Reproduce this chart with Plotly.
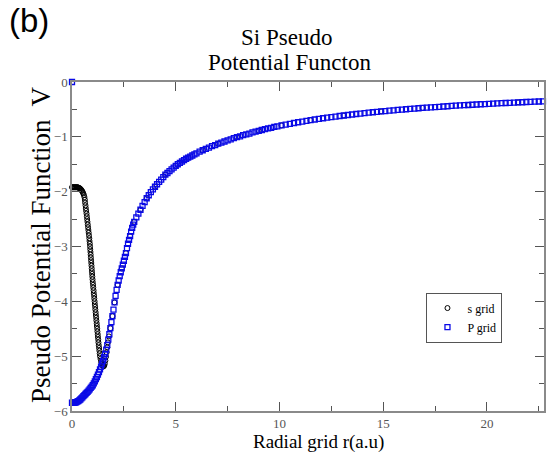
import plotly.graph_objects as go

# ---- data ----
# P grid (blue open squares)
p_r = [0.0,
       0.00, 0.05, 0.10, 0.15, 0.20, 0.25, 0.30, 0.35, 0.40, 0.45, 0.50, 0.55, 0.60,
       0.65, 0.70, 0.75, 0.80, 0.85, 0.90, 0.95, 1.00, 1.05, 1.10, 1.15, 1.20, 1.25,
       1.30, 1.35, 1.40, 1.45, 1.50, 1.55, 1.60, 1.65, 1.70, 1.75, 1.80, 1.85, 1.90,
       1.95, 2.00, 2.05, 2.10, 2.15, 2.20, 2.25, 2.30, 2.35, 2.40, 2.45, 2.50, 2.55,
       2.60, 2.65, 2.70, 2.75, 2.80, 2.85, 2.90, 2.95, 3.00,
       3.1, 3.2, 3.3, 3.4, 3.5, 3.6, 3.7, 3.8, 3.9, 4.0, 4.1, 4.2, 4.3, 4.4, 4.5,
       4.6, 4.7, 4.8, 4.9, 5.0, 5.1, 5.2, 5.3, 5.4, 5.5, 5.6, 5.7, 5.8, 5.9, 6.0,
       6.15, 6.3, 6.45, 6.6, 6.75, 6.9, 7.05, 7.2, 7.35, 7.5, 7.65, 7.8, 7.95, 8.1,
       8.25, 8.4, 8.55, 8.7, 8.85, 9.0, 9.15, 9.3, 9.45, 9.6, 9.75, 9.9,
       10.1, 10.3, 10.5, 10.7, 10.9, 11.1, 11.3, 11.5, 11.7, 11.9, 12.1, 12.3, 12.5,
       12.7, 12.9, 13.1, 13.3, 13.5, 13.7, 13.9, 14.1, 14.3, 14.5, 14.7, 14.9, 15.1,
       15.3, 15.5, 15.7, 15.9, 16.1, 16.3, 16.5, 16.7, 16.9, 17.1, 17.3, 17.5, 17.7,
       17.9, 18.1, 18.3, 18.5, 18.7, 18.9, 19.1, 19.3, 19.5, 19.7, 19.9, 20.1, 20.3,
       20.5, 20.7, 20.9, 21.1, 21.3, 21.5, 21.7, 21.9, 22.1, 22.3, 22.5, 22.7]
p_v = [0.0,
       -5.85, -5.85, -5.85, -5.845, -5.84, -5.83, -5.82, -5.805, -5.79, -5.77, -5.75,
       -5.73, -5.71, -5.69, -5.67, -5.65, -5.63, -5.605, -5.58, -5.555, -5.53, -5.495,
       -5.46, -5.42, -5.38, -5.335, -5.29, -5.24, -5.19, -5.135, -5.08, -5.02, -4.96,
       -4.88, -4.80, -4.70, -4.60, -4.49, -4.38, -4.27, -4.15, -4.02, -3.90, -3.79,
       -3.70, -3.62, -3.54, -3.47, -3.40, -3.33, -3.26, -3.19, -3.12, -3.03, -2.95,
       -2.88, -2.81, -2.73, -2.66, -2.60, -2.55,
       -2.47, -2.40, -2.33, -2.26, -2.19, -2.12, -2.065, -2.01, -1.96, -1.91, -1.865,
       -1.82, -1.78, -1.735, -1.69, -1.66, -1.625, -1.595, -1.56, -1.53, -1.50,
       -1.475, -1.45, -1.425, -1.40, -1.38, -1.36, -1.34, -1.32, -1.30,
       -1.27, -1.245, -1.22, -1.195, -1.17, -1.15, -1.125, -1.105, -1.085, -1.065,
       -1.045, -1.025, -1.005, -0.99, -0.97, -0.955, -0.94, -0.92, -0.905, -0.89,
       -0.875, -0.86, -0.845, -0.835, -0.82, -0.81,
       -0.792, -0.777, -0.762, -0.748, -0.734, -0.721, -0.708, -0.696, -0.684,
       -0.672, -0.661, -0.650, -0.640, -0.630, -0.620, -0.611, -0.602, -0.593,
       -0.584, -0.576, -0.567, -0.559, -0.552, -0.544, -0.537, -0.530, -0.523,
       -0.516, -0.510, -0.503, -0.497, -0.491, -0.485, -0.479, -0.473, -0.468,
       -0.462, -0.457, -0.452, -0.447, -0.442, -0.437, -0.432, -0.428, -0.423,
       -0.419, -0.415, -0.410, -0.406, -0.402, -0.398, -0.394, -0.390, -0.386,
       -0.383, -0.379, -0.376, -0.372, -0.369, -0.365, -0.362, -0.359, -0.356,
       -0.352]

# s grid (black open circles)
s_r = [0.00, 0.03, 0.06, 0.09, 0.12, 0.15, 0.18, 0.21, 0.24, 0.27, 0.30, 0.33, 0.36,
       0.39, 0.42, 0.45, 0.48, 0.51, 0.54, 0.57, 0.60,
       0.62, 0.63, 0.65, 0.665, 0.68, 0.70, 0.715, 0.73, 0.745, 0.76, 0.775, 0.79,
       0.805, 0.82, 0.835, 0.845, 0.86, 0.87, 0.88, 0.89, 0.90, 0.91, 0.92, 0.93,
       0.94, 0.95, 0.96, 0.97, 0.98, 0.99, 1.00, 1.015, 1.025, 1.04, 1.05, 1.065,
       1.075, 1.09, 1.10, 1.115, 1.125, 1.14, 1.15, 1.165, 1.175, 1.19, 1.20, 1.215,
       1.225, 1.24, 1.25, 1.265, 1.275, 1.29, 1.305, 1.32, 1.335, 1.35, 1.375, 1.40,
       1.43, 1.46, 1.49, 1.52, 1.55, 1.58, 1.61, 1.64, 1.67, 1.70, 1.73,
       1.78, 1.85, 1.95, 2.05, 2.2, 2.4, 2.6, 2.8, 3.0, 3.3, 3.6, 4.0, 4.5, 5.0,
       5.6, 6.3, 7.05, 7.95, 9.0, 10.1, 11.5, 13.1, 14.9, 16.9, 19.1, 21.5]
s_v = [-1.92, -1.92, -1.92, -1.92, -1.92, -1.92, -1.92, -1.92, -1.92, -1.92, -1.925,
       -1.93, -1.935, -1.945, -1.955, -1.97, -1.985, -2.005, -2.03, -2.06, -2.10,
       -2.15, -2.20, -2.25, -2.30, -2.35, -2.40, -2.45, -2.50, -2.55, -2.60, -2.65,
       -2.70, -2.75, -2.80, -2.85, -2.90, -2.95, -3.00, -3.05, -3.10, -3.15, -3.20,
       -3.25, -3.30, -3.35, -3.40, -3.45, -3.50, -3.55, -3.60, -3.65, -3.70, -3.75,
       -3.80, -3.85, -3.90, -3.95, -4.00, -4.05, -4.10, -4.15, -4.20, -4.25, -4.30,
       -4.35, -4.40, -4.45, -4.50, -4.55, -4.60, -4.65, -4.70, -4.75, -4.80, -4.85,
       -4.90, -4.95, -5.00, -5.05, -5.10, -5.14, -5.165, -5.18, -5.185, -5.175,
       -5.14, -5.08, -5.01, -4.93, -4.84, -4.75,
       -4.64, -4.49, -4.27, -4.02, -3.70, -3.40, -3.12, -2.81, -2.55, -2.33, -2.12,
       -1.91, -1.69, -1.53, -1.38, -1.245, -1.125, -1.005, -0.89, -0.792, -0.696,
       -0.611, -0.537, -0.473, -0.419, -0.372]

x_ticks = [0, 5, 10, 15, 20]
y_ticks = [0, -1, -2, -3, -4, -5, -6]

serif = "Liberation Serif"

fig = go.Figure()
fig.add_trace(go.Scatter(
    x=s_r, y=s_v, mode="markers", name="s grid",
    marker=dict(symbol="circle-open", size=5, color="black", line=dict(width=1)),
    cliponaxis=False))
fig.add_trace(go.Scatter(
    x=p_r, y=p_v, mode="markers", name="P grid",
    marker=dict(symbol="square-open", size=5, color="#0a0ae6", line=dict(width=1.3)),
    cliponaxis=False))

axis_common = dict(
    showline=True, linecolor="#8a8a8a", linewidth=1.5, mirror="ticks",
    ticks="inside", ticklen=9, tickwidth=1, tickcolor="#555555",
    showgrid=False, zeroline=False,
    tickfont=dict(family=serif, size=13, color="#555555"),
)

fig.update_layout(
    width=555, height=454,
    margin=dict(l=72, r=9, t=82, b=43),
    paper_bgcolor="white", plot_bgcolor="white",
    xaxis=dict(range=[0, 22.75], tickvals=x_ticks,
               minor=dict(dtick=2.5, ticks="inside", ticklen=5, tickcolor="#555555"),
               **axis_common),
    yaxis=dict(range=[-6, 0], tickvals=y_ticks,
               minor=dict(dtick=0.5, ticks="inside", ticklen=5, tickcolor="#555555"),
               **axis_common),
    legend=dict(x=0.751, y=0.36, xanchor="left", yanchor="top",
                bordercolor="#555555", borderwidth=1, bgcolor="white",
                font=dict(family=serif, size=12, color="black"),
                tracegroupgap=0, itemwidth=30),
    showlegend=True,
    annotations=[
        dict(text="(b)", xref="paper", yref="paper", x=-0.137, y=1.25,
             xanchor="left", yanchor="top", showarrow=False,
             font=dict(family="Liberation Sans", size=33, color="black")),
        dict(text="Si Pseudo", xref="paper", yref="paper", x=0.455, y=1.0912,
             xanchor="center", yanchor="bottom", showarrow=False,
             font=dict(family=serif, size=23, color="black")),
        dict(text="Potential Functon", xref="paper", yref="paper", x=0.461, y=1.0152,
             xanchor="center", yanchor="bottom", showarrow=False,
             font=dict(family=serif, size=23, color="black")),
        dict(text="Radial grid r(a.u)", xref="paper", yref="paper", x=0.523, y=-0.094,
             xanchor="center", yanchor="middle", showarrow=False,
             font=dict(family=serif, size=19, color="black")),
        dict(text="Pseudo Potential Function  V", xref="paper", yref="paper",
             x=-0.0654, y=0.505, textangle=-90,
             xanchor="center", yanchor="middle", showarrow=False,
             font=dict(family=serif, size=27, color="black")),
    ],
)

fig.write_html("out.html")
